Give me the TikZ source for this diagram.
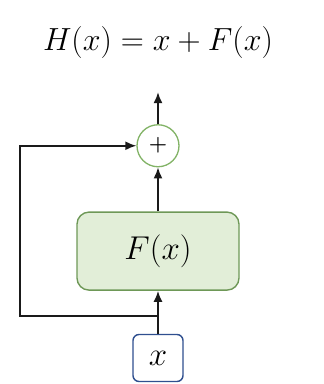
\RequirePackage{fix-cm}
\documentclass[tikz,border=0pt]{standalone}
\usepackage{tikz}
\usetikzlibrary{arrows.meta,positioning}
\definecolor{ResGreen}{HTML}{82B366}
\definecolor{ResLightGreen}{HTML}{E2EED8}
\definecolor{ResBlue}{HTML}{2F4F8F}
\definecolor{ResDark}{HTML}{1A1A1A}

\begin{document}
\begin{tikzpicture}[
    x=1pt, y=-1pt,
    node distance=43pt,
    box/.style={draw=ResGreen!85!black, fill=ResLightGreen, rounded corners=12pt, line width=1.4pt,
      minimum width=162pt, minimum height=78pt, align=center, font=\fontsize{33}{38}\selectfont},
    inbox/.style={draw=ResBlue, fill=white, rounded corners=6pt, line width=1.4pt,
      minimum width=50pt, minimum height=47pt, font=\fontsize{33}{38}\selectfont},
    sum/.style={circle, draw=ResGreen, fill=white, line width=1.3pt, minimum size=42pt,
      inner sep=0pt, font=\fontsize{21}{24}\bfseries},
    arrow/.style={-{Latex[length=11pt,width=9pt]}, line width=1.8pt, draw=ResDark}
  ]
    \useasboundingbox (0,0) rectangle (324,384);

    \node[font=\fontsize{32}{38}\selectfont] (formula) at (158,42) {$H(x) = x + F(x)$};

    \node[inbox] (input) at (158,358) {$x$};
    \node[box, above=of input] (fx) {$F(x)$};
    \node[sum, above=44pt of fx] (sum) {+};

    \coordinate (out) at ([yshift=32pt]sum.north);
    \coordinate (split) at (158,316);
    \coordinate (skip) at (20,316);

    \draw[arrow] (input) -- (fx);
    \draw[arrow] (fx) -- (sum);
    \draw[arrow] (sum) -- (out);
    \draw[arrow] (split) -- (skip) |- (sum);
  \end{tikzpicture}
\end{document}
